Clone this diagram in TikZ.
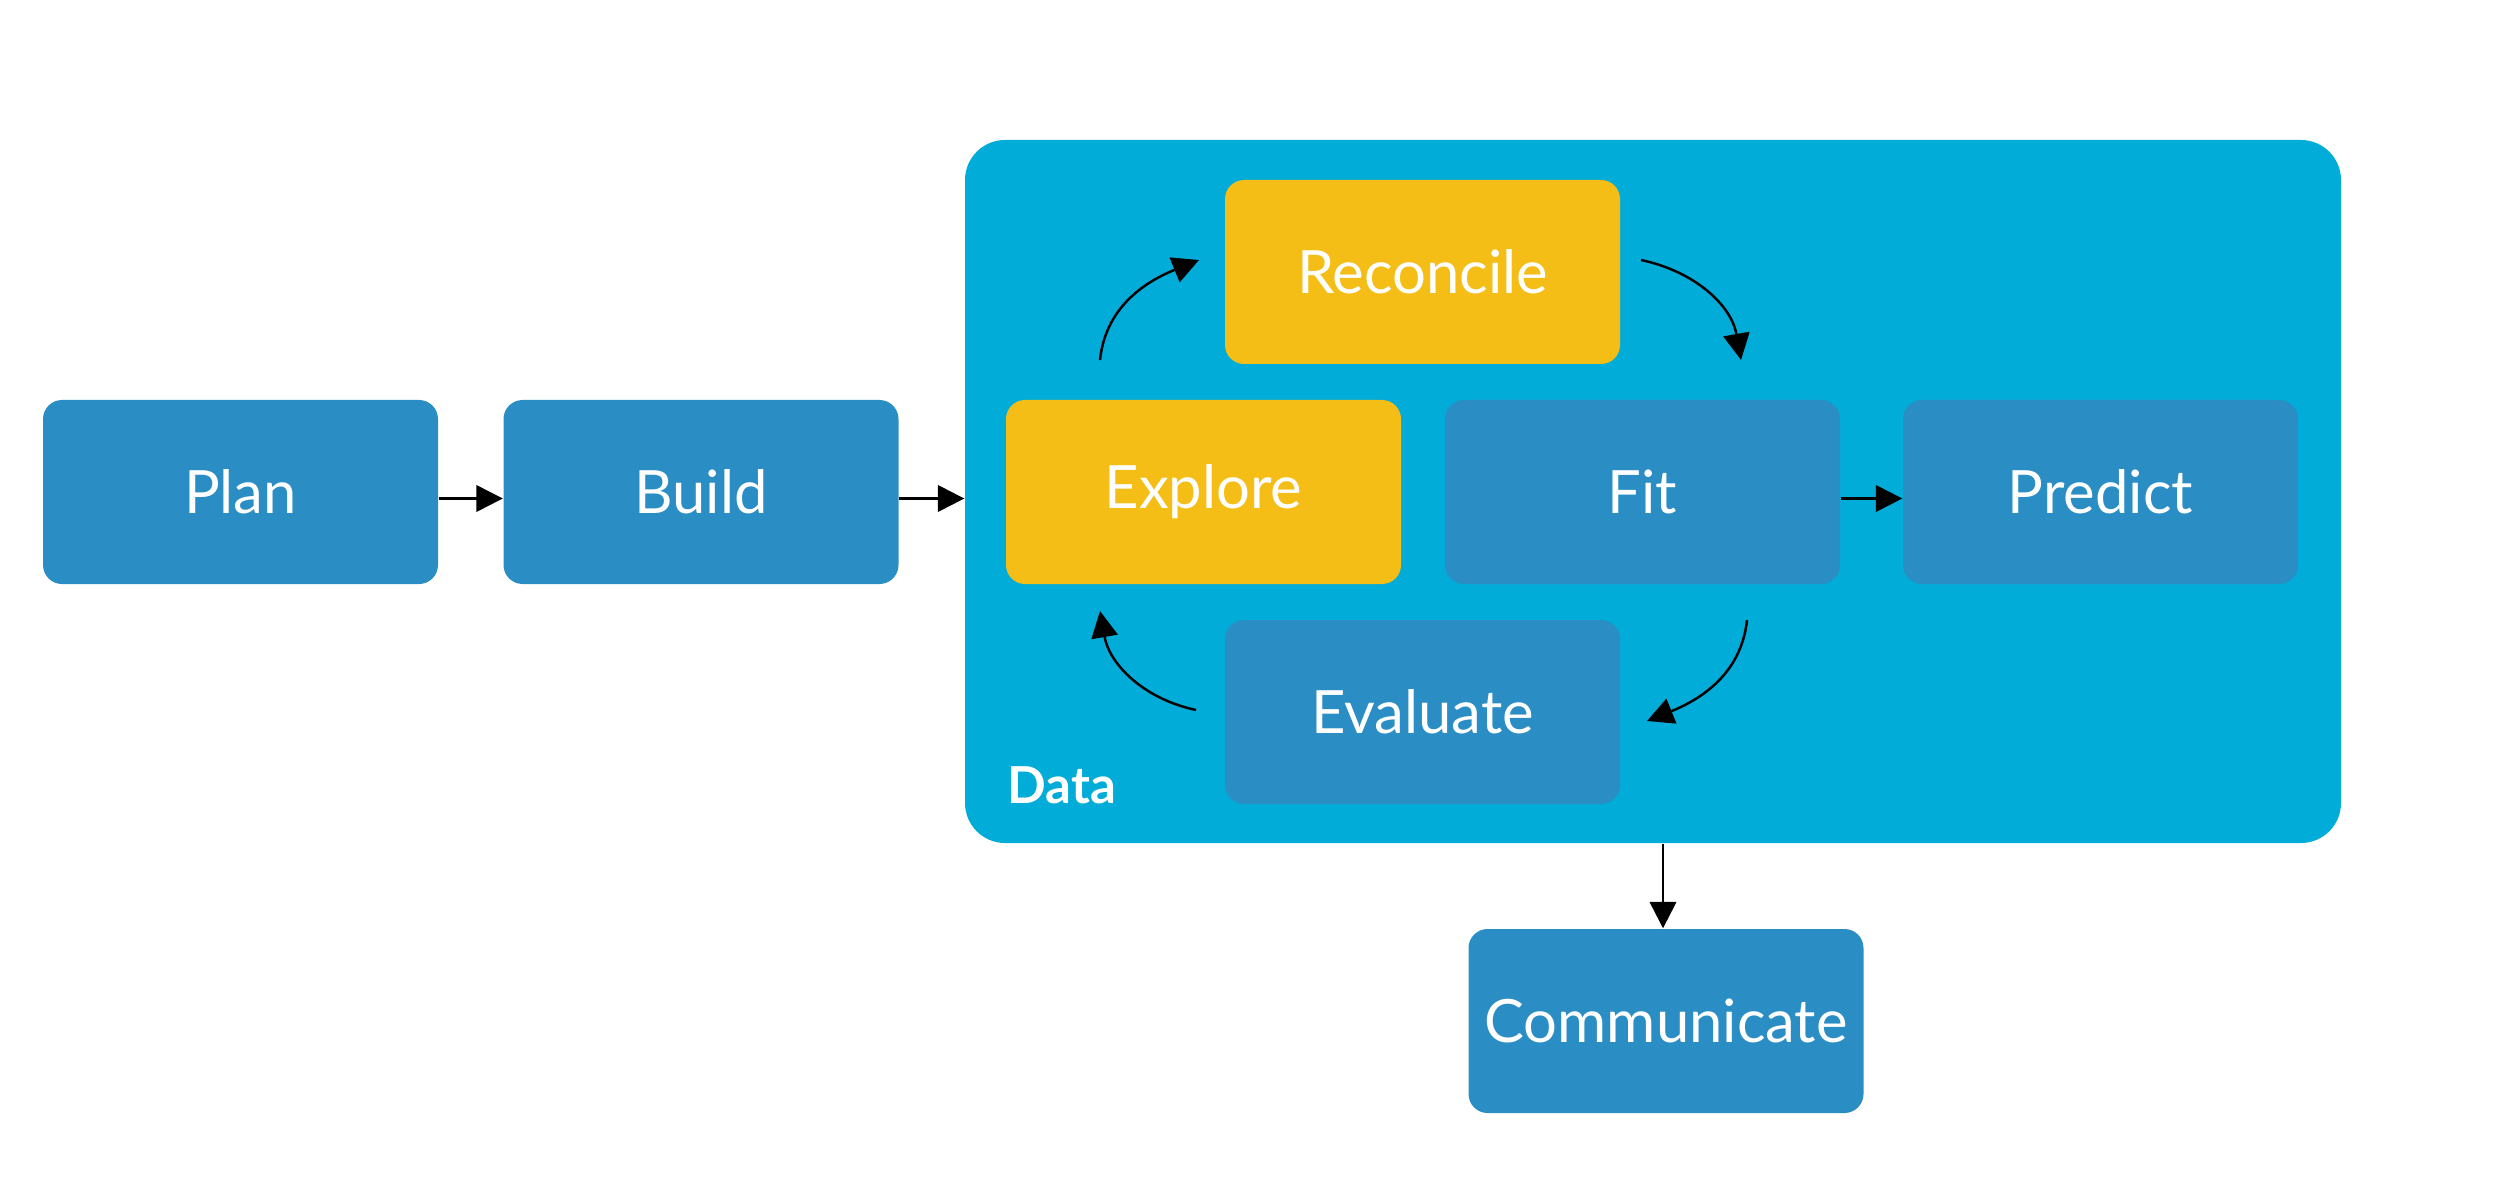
\documentclass[tikz,border=0pt]{standalone}
\usepackage{fontspec}
\setmainfont{Lato}
\usetikzlibrary{arrows.meta,calc}
\definecolor{boxblue}{HTML}{2A8DC3}
\definecolor{datablue}{HTML}{02ACD8}
\definecolor{boxyellow}{HTML}{F5BE17}
\tikzset{
  stage/.style={rounded corners=0.19cm, minimum width=3.95cm, minimum height=1.84cm,
    inner sep=0pt, text=white, font=\fontsize{17}{20}\selectfont},
  bluebox/.style={stage, fill=boxblue},
  yellowbox/.style={stage, fill=boxyellow},
  conn/.style={line width=0.7pt, -{Triangle[length=7.5pt,width=7.5pt]}},
}
\begin{document}
\begin{tikzpicture}
\useasboundingbox (0,0) rectangle (25,12);
% container
\node[fill=datablue, rounded corners=0.4cm, minimum width=13.76cm, minimum height=7.03cm, inner sep=0pt] (data) at (16.53,7.085) {};
\node[text=white, font=\fontsize{14.5}{16}\selectfont\bfseries, anchor=west, inner sep=0pt] (datalbl) at (10.07,4.15) {Data};
% boxes
\node[bluebox] (plan) at (2.405,7.08) {Plan};
\node[bluebox] (build) at (7.01,7.08) {Build};
\node[yellowbox] (reconcile) at (14.225,9.28) {Reconcile};
\node[yellowbox] (explore) at (12.035,7.08) {Explore};
\node[bluebox] (fit) at (16.425,7.08) {Fit};
\node[bluebox] (predict) at (21.005,7.08) {Predict};
\node[bluebox] (evaluate) at (14.225,4.88) {Evaluate};
\node[bluebox] (comm) at (16.66,1.79) {Communicate};
% straight connectors
\draw[conn] ([yshift=-0.065cm]plan.east) -- ([yshift=-0.065cm]build.west);
\draw[conn] ([yshift=-0.065cm]build.east) -- ([yshift=-0.065cm]build.east -| data.west);
\draw[conn] ([yshift=-0.065cm]fit.east) -- ([yshift=-0.065cm]predict.west);
\draw[conn] ([xshift=-0.03cm]comm.north |- data.south) -- ([xshift=-0.03cm]comm.north);
% cycle arrows
\coordinate (c1s) at (11.00,8.40);
\coordinate (c1e) at (11.99,9.40);
\coordinate (c2s) at (16.41,9.40);
\coordinate (c2e) at (17.41,8.40);
\coordinate (c3s) at (17.47,5.80);
\coordinate (c3e) at (16.47,4.79);
\coordinate (c4s) at (11.96,4.90);
\coordinate (c4e) at (11.00,5.89);
\draw[conn] (c1s) to[out=84,in=202] (c1e);
\draw[conn] (c2s) to[out=-12,in=100] (c2e);
\draw[conn] (c3s) to[out=-96,in=22] (c3e);
\draw[conn] (c4s) to[out=168,in=-80] (c4e);
\end{tikzpicture}
\end{document}
